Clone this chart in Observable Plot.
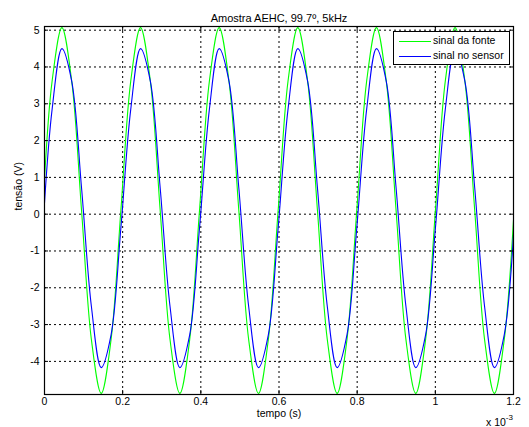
<!DOCTYPE html>
<html>
<head>
<meta charset="utf-8">
<script src="https://cdn.jsdelivr.net/npm/d3@7"></script>
<script src="https://cdn.jsdelivr.net/npm/@observablehq/plot@0.6"></script>
<style>
  html, body { margin: 0; padding: 0; background: #fff; }
  #wrap { position: relative; width: 529px; height: 427px; font-family: "Liberation Sans", Arial, sans-serif; }
  #legend { position: absolute; left: 393px; top: 31px; width: 115px; height: 32px; border: 1px solid #000; background: #fff; font-size: 10.5px; }
  .row { position: absolute; left: 5px; height: 14px; line-height: 14px; white-space: nowrap; }
  .sw { display: inline-block; width: 32px; height: 1px; vertical-align: middle; margin-right: 2px; }
  #exp { position: absolute; left: 486px; top: 413px; font-size: 10.5px; white-space: nowrap; }
  #exp sup { font-size: 8px; vertical-align: 6px; }
</style>
</head>
<body>
<div id="wrap"></div>
<script>
// ---- data ----
const title = "Amostra AEHC, 99.7º, 5kHz";
const xLabel = "tempo (s)";
const yLabel = "tensão (V)";
const seriesNames = ["sinal da fonte", "sinal no sensor"];
const seriesColors = ["#00ff00", "#0000ff"];

// time axis in units of 10^-3 s
const time = [
  0,
  0.0194, 0.0445, 0.0697, 0.0948, 0.1200, 0.1451, 0.1703, 0.1954,
  0.2206, 0.2457, 0.2709, 0.2960, 0.3212, 0.3463, 0.3715, 0.3966,
  0.4218, 0.4469, 0.4721, 0.4972, 0.5224, 0.5475, 0.5727, 0.5978,
  0.6230, 0.6481, 0.6733, 0.6984, 0.7236, 0.7487, 0.7739, 0.7990,
  0.8242, 0.8493, 0.8745, 0.8996, 0.9248, 0.9499, 0.9751, 1.0002,
  1.0254, 1.0505, 1.0757, 1.1008, 1.1260, 1.1511, 1.1763,
  1.2
];
const fonte = [
  0.95,
  3.61, 5.07, 3.61, 0.10, -3.41, -4.87, -3.41, 0.10,
  3.61, 5.07, 3.61, 0.10, -3.41, -4.87, -3.41, 0.10,
  3.61, 5.07, 3.61, 0.10, -3.41, -4.87, -3.41, 0.10,
  3.61, 5.07, 3.61, 0.10, -3.41, -4.87, -3.41, 0.10,
  3.61, 5.07, 3.61, 0.10, -3.41, -4.87, -3.41, 0.10,
  3.61, 5.07, 3.61, 0.10, -3.41, -4.87, -3.41,
  -0.15
];
const sensor = [
  0.30,
  2.84, 4.50, 3.61, 0.71, -2.51, -4.17, -3.28, -0.38,
  2.84, 4.50, 3.61, 0.71, -2.51, -4.17, -3.28, -0.38,
  2.84, 4.50, 3.61, 0.71, -2.51, -4.17, -3.28, -0.38,
  2.84, 4.50, 3.61, 0.71, -2.51, -4.17, -3.28, -0.38,
  2.84, 4.50, 3.61, 0.71, -2.51, -4.17, -3.28, -0.38,
  2.84, 4.50, 3.61, 0.71, -2.51, -4.17, -3.28,
  -0.55
];
const xTicks = [0, 0.2, 0.4, 0.6, 0.8, 1, 1.2];
const yTicks = [-4, -3, -2, -1, 0, 1, 2, 3, 4, 5];
const xDomain = [0, 1.2];
const yDomain = [-4.9, 5.1];

// ---- build ----
const fonteData = time.map((t, i) => ({t, v: fonte[i]}));
const sensorData = time.map((t, i) => ({t, v: sensor[i]}));
const xGrid = xTicks.filter(d => d > xDomain[0] && d < xDomain[1]);
const font = "'Liberation Sans', Arial, sans-serif";

const chart = Plot.plot({
  width: 529,
  height: 427,
  marginLeft: 44,
  marginRight: 16,
  marginTop: 26,
  marginBottom: 33,
  x: {domain: xDomain},
  y: {domain: yDomain},
  style: {fontFamily: font, fontSize: "10.5px", background: "#fff", color: "#000"},
  marks: [
    Plot.gridX(xGrid, {stroke: "#000", strokeOpacity: 1, strokeDasharray: "2,3"}),
    Plot.gridY(yTicks, {stroke: "#000", strokeOpacity: 1, strokeDasharray: "2,3"}),
    Plot.line(fonteData, {x: "t", y: "v", stroke: seriesColors[0], strokeWidth: 1.1, curve: "catmull-rom"}),
    Plot.line(sensorData, {x: "t", y: "v", stroke: seriesColors[1], strokeWidth: 1.1, curve: "catmull-rom"}),
    Plot.axisX(xTicks, {anchor: "bottom", tickSize: 0, tickPadding: 3, label: null, tickFormat: d => String(d), fontSize: 10.5}),
    Plot.axisX(xTicks, {anchor: "bottom", tickSize: -4, label: null, tickFormat: () => ""}),
    Plot.axisX(xTicks, {anchor: "top", tickSize: -4, label: null, tickFormat: () => ""}),
    Plot.axisY(yTicks, {anchor: "left", tickSize: 0, tickPadding: 5, label: null, tickFormat: d => String(d), fontSize: 10.5}),
    Plot.axisY(yTicks, {anchor: "left", tickSize: -4, label: null, tickFormat: () => ""}),
    Plot.axisY(yTicks, {anchor: "right", tickSize: -4, label: null, tickFormat: () => ""}),
    Plot.frame({stroke: "#000", strokeWidth: 1.2}),
    Plot.text([title], {frameAnchor: "top", dy: -12, fontSize: 11, fill: "#000"}),
    Plot.text([xLabel], {frameAnchor: "bottom", dy: 22, fontSize: 10.5, fill: "#000"}),
    Plot.text([yLabel], {frameAnchor: "left", dx: -26, rotate: -90, fontSize: 10.5, fill: "#000"})
  ]
});

const wrap = document.getElementById("wrap");
wrap.appendChild(chart);

const legend = document.createElement("div");
legend.id = "legend";
seriesNames.forEach((name, i) => {
  const row = document.createElement("div");
  row.className = "row";
  row.style.top = (1 + i * 15) + "px";
  const sw = document.createElement("span");
  sw.className = "sw";
  sw.style.background = seriesColors[i];
  row.appendChild(sw);
  row.appendChild(document.createTextNode(name));
  legend.appendChild(row);
});
wrap.appendChild(legend);

const exp = document.createElement("div");
exp.id = "exp";
exp.innerHTML = "x 10<sup>-3</sup>";
wrap.appendChild(exp);
</script>
</body>
</html>
